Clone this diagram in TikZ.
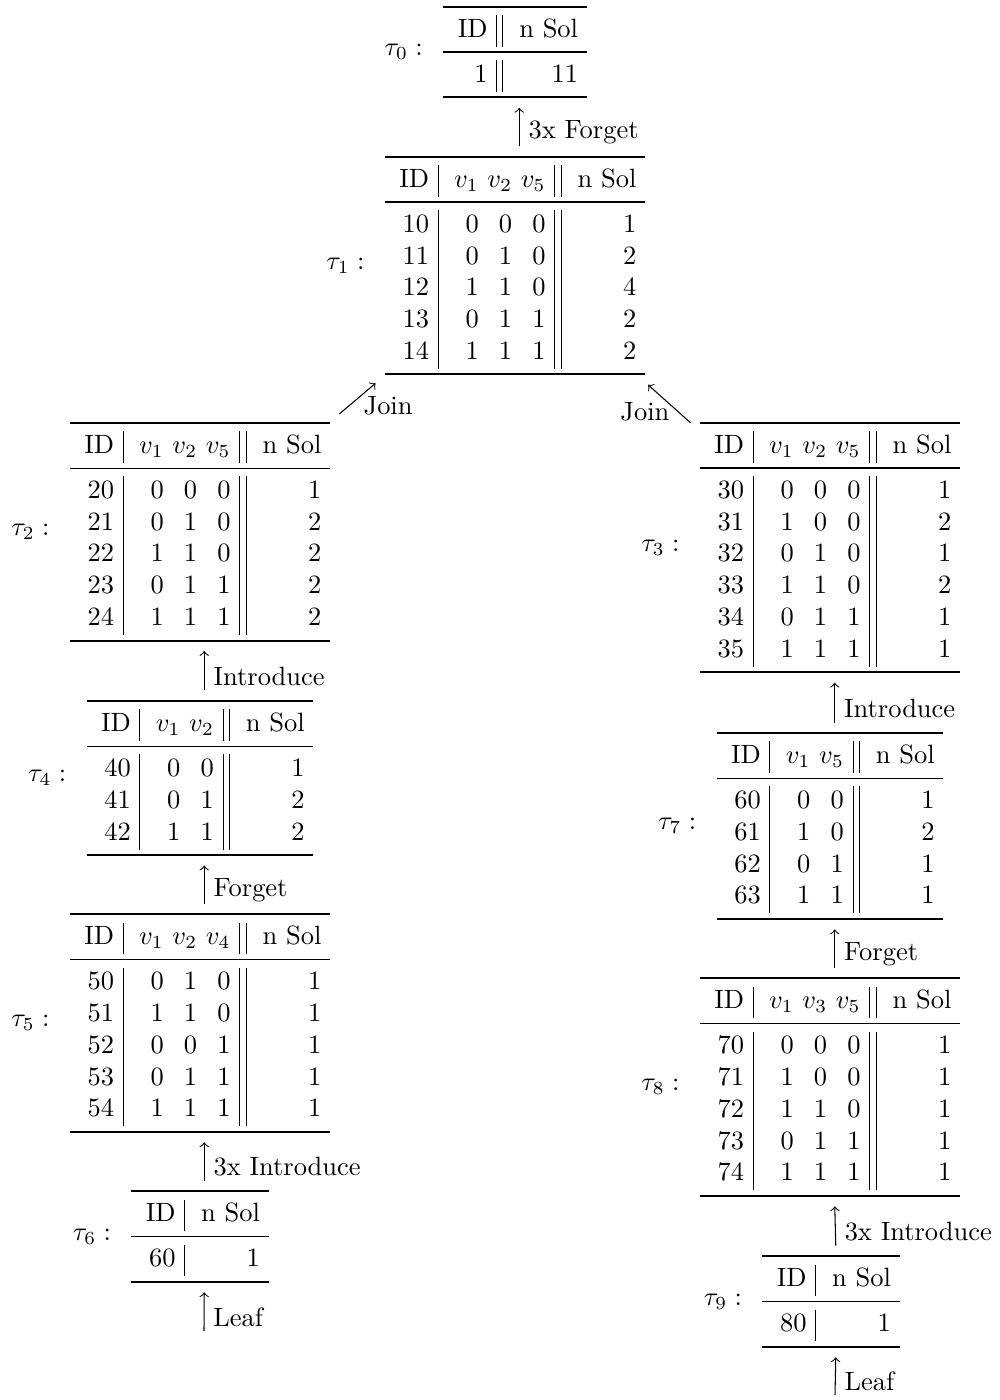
\documentclass[tikz,border=0pt]{standalone}
\usepackage{booktabs}
\usepackage{array}
\usetikzlibrary{positioning}

% column types of the solution tables
\newcolumntype{I}{@{\hspace{5.5pt}}r@{\hspace{3.2pt}}}
\newcolumntype{W}{@{\hspace{5.8pt}}r@{\hspace{3.3pt}}}
\newcolumntype{V}{r@{\hspace{3.3pt}}}
\newcolumntype{N}{@{\hspace{6pt}}r@{\hspace{3.3pt}}}

\tikzset{every picture/.style={line width=0.4pt}}
\tikzset{
  tbl/.style={inner sep=3.33pt},
  tname/.style={inner sep=0pt},
  upedge/.style={->},
}

\begin{document}
\begin{tikzpicture}[x=0.378pt,y=0.378pt,yscale=-1]
\useasboundingbox (0,0) rectangle (1000,1400);

% Table tau_0
\node[tbl] (t0) at (515,52) {\begin{tabular}{I||N}\toprule
ID & n Sol\\ \midrule
1 & 11\\ \bottomrule
\end{tabular}};
% Table tau_1
\node[tbl] (t1) at (515,265.5) {\begin{tabular}{I|WVV||N}\toprule
ID & $v_1$ & $v_2$ & $v_5$ & n Sol\\ \midrule
10 & 0 & 0 & 0 & 1\\
11 & 0 & 1 & 0 & 2\\
12 & 1 & 1 & 0 & 4\\
13 & 0 & 1 & 1 & 2\\
14 & 1 & 1 & 1 & 2\\ \bottomrule
\end{tabular}};
% Table tau_2
\node[tbl] (t2) at (200,531.7) {\begin{tabular}{I|WVV||N}\toprule
ID & $v_1$ & $v_2$ & $v_5$ & n Sol\\ \midrule
20 & 0 & 0 & 0 & 1\\
21 & 0 & 1 & 0 & 2\\
22 & 1 & 1 & 0 & 2\\
23 & 0 & 1 & 1 & 2\\
24 & 1 & 1 & 1 & 2\\ \bottomrule
\end{tabular}};
% Table tau_3
\node[tbl] (t3) at (830,547.5) {\begin{tabular}{I|WVV||N}\toprule
ID & $v_1$ & $v_2$ & $v_5$ & n Sol\\ \midrule
30 & 0 & 0 & 0 & 1\\
31 & 1 & 0 & 0 & 2\\
32 & 0 & 1 & 0 & 1\\
33 & 1 & 1 & 0 & 2\\
34 & 0 & 1 & 1 & 1\\
35 & 1 & 1 & 1 & 1\\ \bottomrule
\end{tabular}};
% Table tau_4
\node[tbl] (t4) at (200,778) {\begin{tabular}{I|WV||N}\toprule
ID & $v_1$ & $v_2$ & n Sol\\ \midrule
40 & 0 & 0 & 1\\
41 & 0 & 1 & 2\\
42 & 1 & 1 & 2\\ \bottomrule
\end{tabular}};
% Table tau_5
\node[tbl] (t5) at (200,1023) {\begin{tabular}{I|WVV||N}\toprule
ID & $v_1$ & $v_2$ & $v_4$ & n Sol\\ \midrule
50 & 0 & 1 & 0 & 1\\
51 & 1 & 1 & 0 & 1\\
52 & 0 & 0 & 1 & 1\\
53 & 0 & 1 & 1 & 1\\
54 & 1 & 1 & 1 & 1\\ \bottomrule
\end{tabular}};
% Table tau_6
\node[tbl] (t6) at (200,1236.5) {\begin{tabular}{I|N}\toprule
ID & n Sol\\ \midrule
60 & 1\\ \bottomrule
\end{tabular}};
% Table tau_7
\node[tbl] (t7) at (830,826) {\begin{tabular}{I|WV||N}\toprule
ID & $v_1$ & $v_5$ & n Sol\\ \midrule
60 & 0 & 0 & 1\\
61 & 1 & 0 & 2\\
62 & 0 & 1 & 1\\
63 & 1 & 1 & 1\\ \bottomrule
\end{tabular}};
% Table tau_8
\node[tbl] (t8) at (830,1087) {\begin{tabular}{I|WVV||N}\toprule
ID & $v_1$ & $v_3$ & $v_5$ & n Sol\\ \midrule
70 & 0 & 0 & 0 & 1\\
71 & 1 & 0 & 0 & 1\\
72 & 1 & 1 & 0 & 1\\
73 & 0 & 1 & 1 & 1\\
74 & 1 & 1 & 1 & 1\\ \bottomrule
\end{tabular}};
% Table tau_9
\node[tbl] (t9) at (831,1301.5) {\begin{tabular}{I|N}\toprule
ID & n Sol\\ \midrule
80 & 1\\ \bottomrule
\end{tabular}};

% Text Node
\node[tname, left=4pt of t0] (n0) {$\tau_0:$};
\node[tname, left=4pt of t1] (n1) {$\tau_1:$};
\node[tname, left=4pt of t2] (n2) {$\tau_2:$};
\node[tname, left=4pt of t3] (n3) {$\tau_3:$};
\node[tname, left=4pt of t4] (n4) {$\tau_4:$};
\node[tname, left=4pt of t5] (n5) {$\tau_5:$};
\node[tname, left=4pt of t6] (n6) {$\tau_6:$};
\node[tname, left=4pt of t7] (n7) {$\tau_7:$};
\node[tname, left=4pt of t8] (n8) {$\tau_8:$};
\node[tname, left=4pt of t9] (n9) {$\tau_9:$};

% leaves
\coordinate (leaf6) at (204,1331);
\coordinate (leaf9) at (835,1395);

% Edges
\draw[upedge] ([xshift=1.6pt]t1.north) -- ([xshift=1.6pt]t0.south) node[pos=0.36, right] {3x Forget};
\draw[upedge] (t2) -- (t1) node[pos=0.25, right, xshift=2.2pt] {Join};
\draw[upedge] (t3) -- (t1) node[pos=0.28, left] {Join};
\draw[upedge] ([xshift=1.6pt]t4.north) -- ([xshift=1.6pt]t2.south) node[pos=0.36, right] {Introduce};
\draw[upedge] ([xshift=1.6pt]t5.north) -- ([xshift=1.6pt]t4.south) node[pos=0.36, right] {Forget};
\draw[upedge] ([xshift=1.6pt]t6.north) -- ([xshift=1.6pt]t5.south) node[pos=0.36, right] {3x Introduce};
\draw[upedge] (leaf6) -- ([xshift=1.6pt]t6.south) node[pos=0.36, right] {Leaf};
\draw[upedge] ([xshift=1.8pt]t7.north) -- ([xshift=1.8pt]t3.south) node[pos=0.36, right] {Introduce};
\draw[upedge] ([xshift=1.8pt]t8.north) -- ([xshift=1.8pt]t7.south) node[pos=0.36, right] {Forget};
\draw[upedge] ([xshift=1.8pt]t9.north) -- ([xshift=1.8pt]t8.south) node[pos=0.36, right] {3x Introduce};
\draw[upedge] (leaf9) -- ([xshift=1.8pt]t9.south) node[pos=0.36, right] {Leaf};

\end{tikzpicture}
\end{document}
